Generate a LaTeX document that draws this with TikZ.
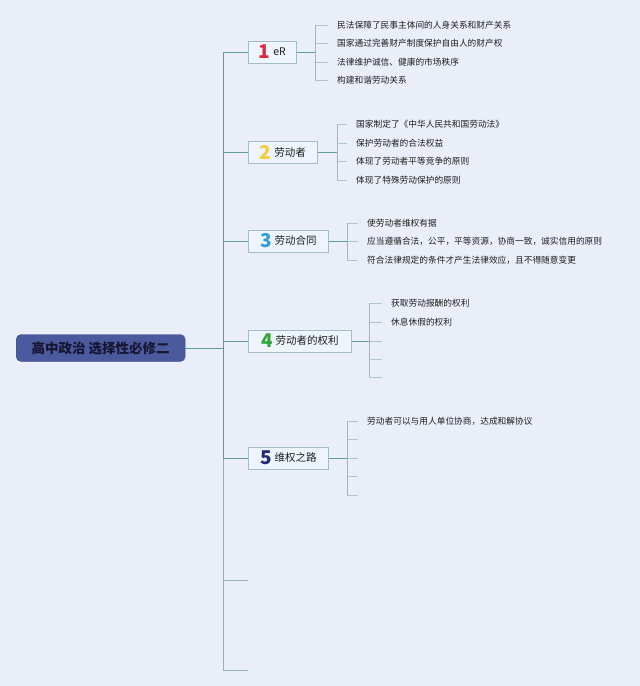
\documentclass[tikz,border=0pt]{standalone}
\usepackage{fontspec}
\setmainfont{Noto Sans CJK SC}
\definecolor{bgc}{HTML}{E9EEF9}
\definecolor{boxfill}{HTML}{EEF4FB}
\definecolor{boxdraw}{HTML}{A3BCC8}
\definecolor{rootfill}{HTML}{4B5A9C}
\definecolor{roottext}{HTML}{161633}
\definecolor{trunkc}{HTML}{5F9E98}
\definecolor{trunkl}{HTML}{8FB3B8}
\definecolor{subc}{HTML}{93BDBD}
\definecolor{tickc}{HTML}{AFC6CE}
\definecolor{textc}{HTML}{1E1E1E}
\definecolor{n1}{HTML}{E0283C}
\definecolor{n2}{HTML}{F5CC3C}
\definecolor{n3}{HTML}{2C9FDA}
\definecolor{n4}{HTML}{34A63A}
\definecolor{n5}{HTML}{252A78}
\tikzset{
  rootbox/.style={draw=rootfill!80!black, fill=rootfill, rounded corners=5pt, anchor=west,
    minimum width=169pt, minimum height=27pt, inner sep=0pt,
    font=\fontsize{13.5}{15}\selectfont\bfseries, text=roottext},
  branchbox/.style={draw=boxdraw, fill=boxfill, anchor=west, minimum height=22pt,
    inner xsep=0pt, inner ysep=0pt, line width=0.6pt,
    font=\fontsize{10.5}{12}\selectfont, text=textc},
  leaf/.style={anchor=west, inner xsep=9pt, inner ysep=1pt,
    font=\fontsize{8.7}{10}\selectfont, text=textc},
  trunk/.style={draw=trunkc, line width=0.9pt},
  trunklow/.style={draw=trunkl, line width=0.9pt},
  sub/.style={draw=subc, line width=0.8pt},
  tick/.style={draw=tickc, line width=0.8pt},
}
\newcommand{\bnum}[2]{\raisebox{-3pt}{\fontsize{19}{20}\selectfont\bfseries\color{#1}#2}\hspace{3pt}}
\begin{document}
\begin{tikzpicture}[x=1pt,y=-1pt]
\useasboundingbox[fill=bgc] (0,0) rectangle (640,686);

% root
\node[rootbox] (root) at (16,348) {高中政治 选择性必修二};
\coordinate (tj) at (223,348);

% branch boxes
\node[branchbox, minimum width=48pt] (b1) at (248,52) {\bnum{n1}{1}eR};
\node[branchbox, minimum width=69pt] (b2) at (248,152) {\bnum{n2}{2}劳动者};
\node[branchbox, minimum width=80pt] (b3) at (248,241) {\bnum{n3}{3}劳动合同};
\node[branchbox, minimum width=103pt] (b4) at (248,341) {\bnum{n4}{4}劳动者的权利};
\node[branchbox, minimum width=80pt] (b5) at (248,458) {\bnum{n5}{5}维权之路};
\coordinate (e1) at (248,580);
\coordinate (e2) at (248,670);

% trunk connectors
\draw[trunklow] (tj) |- (e1);
\draw[trunklow] (tj) |- (e2);
\draw[trunk] (root.east) -- (tj);
\foreach \b in {b1,b2,b3,b4,b5} { \draw[trunk] (tj) |- (\b.west); }

% branch 1 leaves
\coordinate (j1) at (315,52);
\node[leaf] (l11) at (328,25) {民法保障了民事主体间的人身关系和财产关系};
\node[leaf] (l12) at (328,43) {国家通过完善财产制度保护自由人的财产权};
\node[leaf] (l13) at (328,62) {法律维护诚信、健康的市场秩序};
\node[leaf] (l14) at (328,80) {构建和谐劳动关系};
\draw[trunk] (b1.east) -- (j1);
\foreach \l in {l11,l12,l13,l14} { \draw[tick] (j1) |- (\l.west); }
\draw[sub] (315,25) -- (315,80);

% branch 2 leaves
\coordinate (j2) at (337,152);
\node[leaf] (l21) at (347,124) {国家制定了《中华人民共和国劳动法》};
\node[leaf] (l22) at (347,143) {保护劳动者的合法权益};
\node[leaf] (l23) at (347,161) {体现了劳动者平等竞争的原则};
\node[leaf] (l24) at (347,180) {体现了特殊劳动保护的原则};
\draw[trunk] (b2.east) -- (j2);
\foreach \l in {l21,l22,l23,l24} { \draw[tick] (j2) |- (\l.west); }
\draw[sub] (337,124) -- (337,180);

% branch 3 leaves
\coordinate (j3) at (347,241);
\node[leaf] (l31) at (358,223) {使劳动者维权有据};
\node[leaf] (l32) at (358,241) {应当遵循合法，公平，平等资源，协商一致，诚实信用的原则};
\node[leaf] (l33) at (358,260) {符合法律规定的条件才产生法律效应，且不得随意变更};
\draw[trunk] (b3.east) -- (j3);
\foreach \l in {l31,l32,l33} { \draw[tick] (j3) |- (\l.west); }
\draw[sub] (347,223) -- (347,260);

% branch 4 leaves
\coordinate (j4) at (369,341);
\node[leaf] (l41) at (382,303) {获取劳动报酬的权利};
\node[leaf] (l42) at (382,322) {休息休假的权利};
\coordinate (l43) at (382,341);
\coordinate (l44) at (382,359);
\coordinate (l45) at (382,377);
\draw[trunk] (b4.east) -- (j4);
\draw[tick] (j4) |- (l41.west);
\draw[tick] (j4) |- (l42.west);
\draw[tick] (j4) -- (l43);
\draw[tick] (j4) |- (l44);
\draw[tick] (j4) |- (l45);
\draw[sub] (369,303) -- (369,377);

% branch 5 leaves
\coordinate (j5) at (347,458);
\node[leaf] (l51) at (358,421) {劳动者可以与用人单位协商，达成和解协议};
\coordinate (l52) at (358,439);
\coordinate (l53) at (358,458);
\coordinate (l54) at (358,476);
\coordinate (l55) at (358,495);
\draw[trunk] (b5.east) -- (j5);
\draw[tick] (j5) |- (l51.west);
\draw[tick] (j5) |- (l52);
\draw[tick] (j5) -- (l53);
\draw[tick] (j5) |- (l54);
\draw[tick] (j5) |- (l55);
\draw[sub] (347,421) -- (347,495);
\end{tikzpicture}
\end{document}
